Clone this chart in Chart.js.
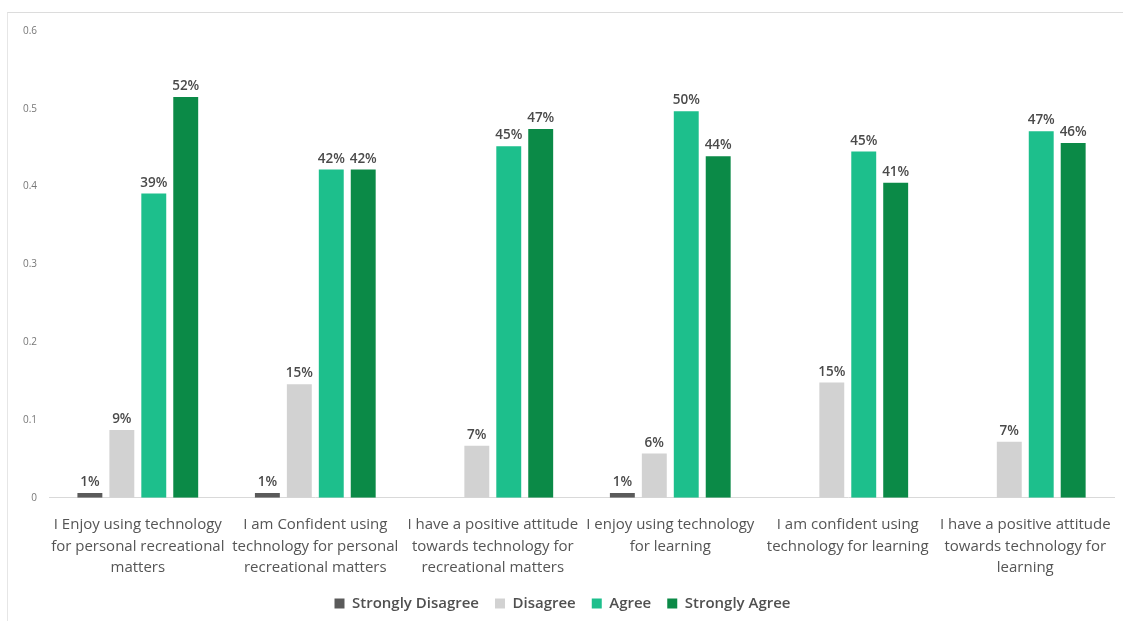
<!DOCTYPE html>
<html>
<head>
<meta charset="utf-8">
<script src="https://cdn.jsdelivr.net/npm/chart.js@4/dist/chart.umd.min.js"></script>
<style>
    html, body { margin: 0; padding: 0; background: #fff; }
    .frame {
        position: absolute; left: 7px; top: 12px; width: 1116px; height: 609px;
        border-top: 1px solid #dcdcdc; border-left: 1px solid #e6e6e6;
        box-sizing: border-box;
    }
    canvas { display: block; }
</style>
</head>
<body>
<div class="frame"><canvas id="chart"></canvas></div>
<script>
// Données
const categories = [
    ['I Enjoy using technology', 'for personal recreational', 'matters'],
    ['I am Confident using', 'technology for personal', 'recreational matters'],
    ['I have a positive attitude', 'towards technology for', 'recreational matters'],
    ['I enjoy using technology', 'for learning'],
    ['I am confident using', 'technology for learning'],
    ['I have a positive attitude', 'towards technology for', 'learning']
];
const seriesNames = ['Strongly Disagree', 'Disagree', 'Agree', 'Strongly Agree'];
const stronglyDisagree = [0.006, 0.006, 0, 0.006, 0, 0];
const disagree = [0.087, 0.146, 0.067, 0.057, 0.148, 0.072];
const agree = [0.391, 0.422, 0.452, 0.497, 0.445, 0.471];
const stronglyAgree = [0.515, 0.422, 0.474, 0.439, 0.405, 0.456];
const pctLabels = [
    ['1%', '1%', '', '1%', '', ''],
    ['9%', '15%', '7%', '6%', '15%', '7%'],
    ['39%', '42%', '45%', '50%', '45%', '47%'],
    ['52%', '42%', '47%', '44%', '41%', '46%']
];
const yTicks = [0, 0.1, 0.2, 0.3, 0.4, 0.5, 0.6];
const colors = ['#5a5a5a', '#d2d2d2', '#1dbf8c', '#0b8a47'];

const canvas = document.getElementById('chart');
canvas.width = 1115;
canvas.height = 608;

// Étiquettes au-dessus des barres
const barLabels = {
    id: 'barLabels',
    afterDatasetsDraw(chart) {
        const ctx = chart.ctx;
        ctx.save();
        ctx.font = '600 13.5px "Open Sans"';
        ctx.fillStyle = '#4a4a4a';
        ctx.textAlign = 'center';
        ctx.textBaseline = 'bottom';
        chart.data.datasets.forEach((ds, i) => {
            chart.getDatasetMeta(i).data.forEach((bar, j) => {
                const txt = pctLabels[i][j];
                if (txt) ctx.fillText(txt, bar.x, bar.y - 4);
            });
        });
        ctx.restore();
    }
};

const datasets = [stronglyDisagree, disagree, agree, stronglyAgree].map((vals, i) => ({
    label: seriesNames[i],
    data: vals,
    backgroundColor: colors[i],
    barPercentage: 0.78,
    categoryPercentage: 0.72
}));

new Chart(canvas, {
    type: 'bar',
    data: { labels: categories, datasets: datasets },
    options: {
        responsive: false,
        animation: false,
        layout: { padding: { top: 14, right: 9, left: 3, bottom: 0 } },
        plugins: {
            legend: {
                position: 'bottom',
                labels: {
                    boxWidth: 10, boxHeight: 10, padding: 16,
                    color: '#505050',
                    font: { family: 'Open Sans', size: 15, weight: '600' }
                }
            },
            tooltip: { enabled: false }
        },
        scales: {
            x: {
                grid: { display: false, drawTicks: false },
                border: { color: '#d9d9d9' },
                afterFit(axis) {
                    axis.height -= 15;
                    axis.paddingRight = 0;
                    axis.paddingLeft = 0;
                },
                ticks: {
                    color: '#555',
                    padding: 16,
                    maxRotation: 0,
                    font: { family: 'Open Sans', size: 15, lineHeight: 1.45 }
                }
            },
            y: {
                min: 0, max: 0.6,
                afterBuildTicks(axis) { axis.ticks = yTicks.map(v => ({ value: v })); },
                grid: { display: false, drawTicks: false },
                border: { display: false },
                ticks: {
                    color: '#777',
                    padding: 12,
                    font: { family: 'Open Sans', size: 10 },
                    callback: v => v === 0 ? '0' : String(Math.round(v * 10) / 10)
                }
            }
        }
    },
    plugins: [barLabels]
});
</script>
</body>
</html>
